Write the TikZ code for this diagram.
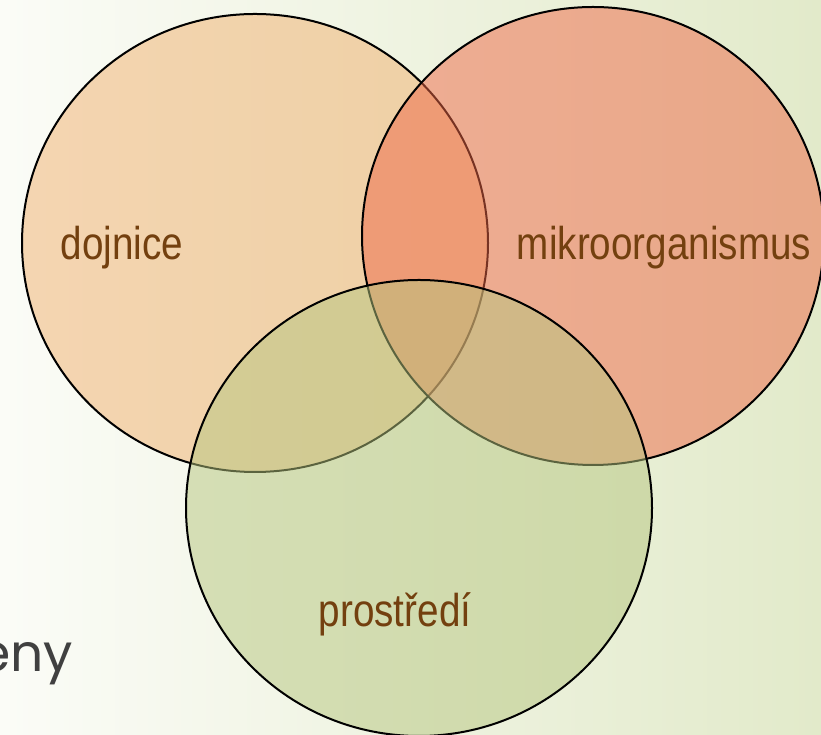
\documentclass[tikz,border=0pt]{standalone}
\usepackage{fontspec}
\setmainfont{Liberation Sans}
\newfontfamily\labelfont[FakeStretch=0.84]{Liberation Sans}
\newfontfamily\titlefont{Poppins}
\definecolor{lblbrown}{HTML}{73400F}
\definecolor{bgl}{HTML}{FBFCF7}
\definecolor{bgr}{HTML}{E2EACA}
\definecolor{vleft}{HTML}{F0B06E}
\definecolor{vright}{HTML}{EE6746}
\definecolor{vbottom}{HTML}{B6C67F}
\definecolor{titlegrey}{HTML}{404040}
\begin{document}
\begin{tikzpicture}[x=1pt,y=1pt,
  venn/.style={draw=black, line width=2pt, fill opacity=0.5},
  lbl/.style={text=lblbrown, font=\labelfont\fontsize{46}{50}\selectfont, inner sep=0pt, anchor=base}]
\useasboundingbox (0,0) rectangle (821,735);
\clip (0,0) rectangle (821,735);
\shade[left color=bgl, right color=bgr] (0,0) rectangle (821,735);
\path[venn, fill=vleft] (255,492) ellipse [x radius=233, y radius=229];
\path[venn, fill=vright] (593,499) ellipse [x radius=231, y radius=229];
\path[venn, fill=vbottom] (419,227) ellipse [x radius=233, y radius=228];
\node[lbl] (dojnice) at (122,475) {dojnice};
\node[lbl] (mikro) at (664,475) {mikroorganismus};
\node[lbl] (prostredi) at (395,108) {prostředí};
\node[text=titlegrey, font=\titlefont\fontsize{52}{56}\selectfont, inner sep=0pt, anchor=base east] (eny) at (73,63) {eny};
\end{tikzpicture}
\end{document}
